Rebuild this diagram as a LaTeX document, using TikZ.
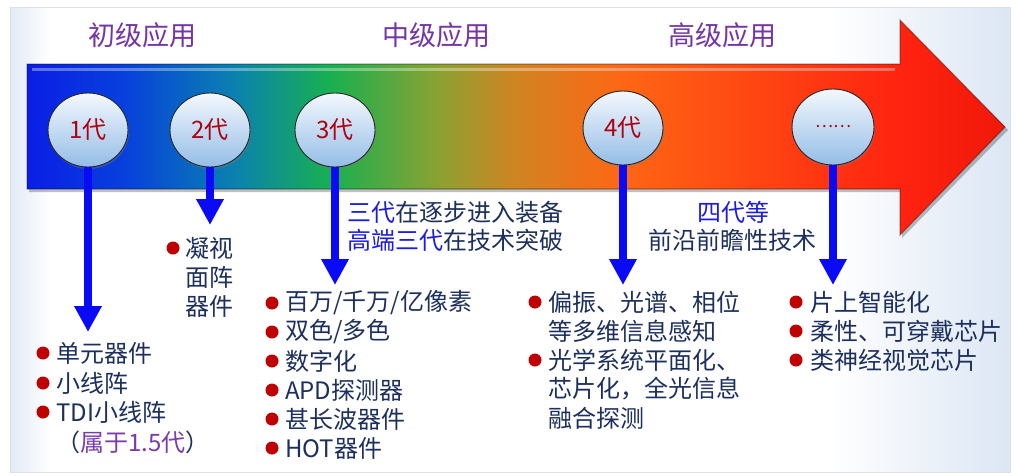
\documentclass[tikz,border=0pt]{standalone}
\usepackage{fontspec}
\setmainfont{Noto Sans CJK SC}
\usetikzlibrary{shapes.geometric,arrows.meta,shadows}
\definecolor{navy}{HTML}{1C2F5E}
\definecolor{hdrpurple}{HTML}{7535A5}
\definecolor{genred}{HTML}{B00010}
\definecolor{bulred}{HTML}{C00000}
\definecolor{connblue}{HTML}{0A0AF5}
\definecolor{txtblue}{HTML}{1C1CE0}
\definecolor{paren}{HTML}{7A3AB0}
\definecolor{aA}{HTML}{0A1EE6}
\definecolor{aB}{HTML}{0840DC}
\definecolor{aC}{HTML}{0A80B0}
\definecolor{aD}{HTML}{18B050}
\definecolor{aE}{HTML}{8AA232}
\definecolor{aF}{HTML}{D08422}
\definecolor{aG}{HTML}{FF6614}
\definecolor{aH}{HTML}{FF4412}
\definecolor{aI}{HTML}{FF2410}
\definecolor{aJ}{HTML}{F0180A}
\definecolor{panelL}{HTML}{E2EAF6}
\definecolor{panelR}{HTML}{DCE6F4}
\definecolor{ctop}{HTML}{F4F8FE}
\definecolor{cbot}{HTML}{94BDE6}
\pgfdeclarehorizontalshading{arrowshade}{100bp}{color(0bp)=(aA); color(25bp)=(aA); color(30bp)=(aB); color(35.5bp)=(aC); color(40.5bp)=(aD); color(46bp)=(aE); color(50bp)=(aF); color(55.5bp)=(aG); color(62.5bp)=(aH); color(69.5bp)=(aI); color(75bp)=(aJ); color(100bp)=(aJ)}
\pgfdeclarehorizontalshading{panelshade}{100bp}{color(0bp)=(panelL); color(25bp)=(panelL); color(27bp)=(white); color(66bp)=(white); color(75bp)=(panelR); color(100bp)=(panelR)}
\tikzset{
  hdr/.style={inner sep=0pt, text=hdrpurple, font=\fontsize{27}{30}\selectfont},
  gen/.style={ellipse, draw=black!85, line width=0.9pt, top color=ctop, bottom color=cbot,
    minimum width=80pt, minimum height=74pt, inner sep=0pt, text=genred,
    font=\fontsize{24}{26}\selectfont,
    drop shadow={opacity=0.35, shadow xshift=1pt, shadow yshift=-2pt}},
  bul/.style={circle, fill=bulred, minimum size=13pt, inner sep=0pt},
  itm/.style={anchor=west, inner sep=0pt, text=navy, font=\fontsize{24}{29}\selectfont},
  note/.style={inner sep=0pt, text=navy, font=\fontsize{24}{29}\selectfont},
  conn/.style={draw=connblue, line width=8pt, -{Triangle[width=26pt,length=26pt]}}
}
\begin{document}
\begin{tikzpicture}[x=1pt,y=-1pt]
\useasboundingbox (0,0) rectangle (1016,475);
\fill[white] (0,0) rectangle (1016,475);
% panel
\shade[shading=panelshade] (10,7) rectangle (1010,472);
\draw[draw=black!12, line width=1pt] (10,7) rectangle (1010,472);
% big arrow
\fill[black, opacity=0.25] (29,67) -- (902,67) -- (902,23) -- (1008,130) -- (902,238) -- (902,192) -- (29,192) -- cycle;
\shade[shading=arrowshade] (27,64) -- (900,64) -- (900,20) -- (1005,127) -- (900,235) -- (900,189) -- (27,189) -- cycle;
\draw[white, opacity=0.35, line width=3pt] (32,69) -- (895,69);
\draw[black, opacity=0.3, line width=1.2pt, line join=miter] (27,64) -- (900,64) -- (900,20) -- (1005,127) -- (900,235) -- (900,189) -- (27,189) -- cycle;
% headers
\node[hdr] (h1) at (142,35) {初级应用};
\node[hdr] (h2) at (436,35) {中级应用};
\node[hdr] (h3) at (722,35) {高级应用};
% generation circles
\node[gen] (c1) at (88,130) {1代};
\node[gen] (c2) at (210,130) {2代};
\node[gen] (c3) at (335,130) {3代};
\node[gen] (c4) at (623,128) {4代};
\node[gen, minimum width=82pt, minimum height=76pt] (c5) at (833,127) {\fontsize{17}{18}\selectfont ……};
% connectors
\coordinate (t1) at (88,332);
\coordinate (t2) at (210,225);
\coordinate (t3) at (335,285);
\coordinate (t4) at (623,285);
\coordinate (t5) at (833,285);
\draw[conn] (c1.south) -- (t1);
\draw[conn] (c2.south) -- (t2);
\draw[conn] (c3.south) -- (t3);
\draw[conn] (c4.south) -- (t4);
\draw[conn] (c5.south) -- (t5);
% notes
\node[note, anchor=west] (n3a) at (347,212) {{\color{txtblue}三代}在逐步进入装备};
\node[note, anchor=west] (n3b) at (347,240) {{\color{txtblue}高端三代}在技术突破};
\node[note, text=txtblue] (n4a) at (733,212) {四代等};
\node[note] (n4b) at (732,240) {前沿前瞻性技术};
% list 1
\node[bul] (b11) at (43,353) {};
\node[itm] (l11) at (56,353) {单元器件};
\node[bul] (b12) at (43,383) {};
\node[itm] (l12) at (56,383) {小线阵};
\node[bul] (b13) at (43,412) {};
\node[itm] (l13) at (56,412) {TDI小线阵};
\node[itm] (l14) at (56,442) {（{\color{paren}属于1.5代}）};
% list 2
\node[bul] (b21) at (173,248) {};
\node[itm] (l21) at (185,248) {凝视};
\node[itm] (l22) at (185,277) {面阵};
\node[itm] (l23) at (185,306) {器件};
% list 3
\node[bul] (b31) at (272,303) {};
\node[itm] (l31) at (285,303) {百万/千万/亿像素};
\node[bul] (b32) at (272,332) {};
\node[itm] (l32) at (285,332) {双色/多色};
\node[bul] (b33) at (272,361) {};
\node[itm] (l33) at (285,361) {数字化};
\node[bul] (b34) at (272,390) {};
\node[itm] (l34) at (285,390) {APD探测器};
\node[bul] (b35) at (272,419) {};
\node[itm] (l35) at (285,419) {甚长波器件};
\node[bul] (b36) at (272,448) {};
\node[itm] (l36) at (285,448) {HOT器件};
% list 4
\node[bul] (b41) at (535,302) {};
\node[itm] (l41) at (548,302) {偏振、光谱、相位};
\node[itm] (l42) at (548,331) {等多维信息感知};
\node[bul] (b43) at (535,360) {};
\node[itm] (l43) at (548,360) {光学系统平面化、};
\node[itm] (l44) at (548,389) {芯片化，全光信息};
\node[itm] (l45) at (548,418) {融合探测};
% list 5
\node[bul] (b51) at (796,302) {};
\node[itm] (l51) at (810,302) {片上智能化};
\node[bul] (b52) at (796,331) {};
\node[itm] (l52) at (810,331) {柔性、可穿戴芯片};
\node[bul] (b53) at (796,360) {};
\node[itm] (l53) at (810,360) {类神经视觉芯片};
\end{tikzpicture}
\end{document}
